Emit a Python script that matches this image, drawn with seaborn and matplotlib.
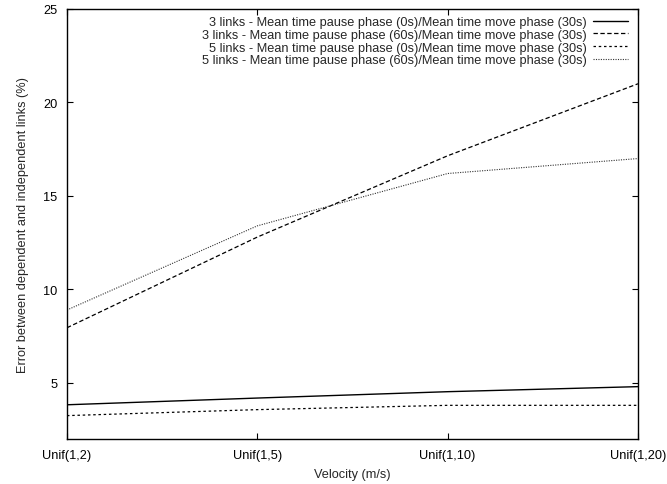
import numpy as np
import pandas as pd
import matplotlib
matplotlib.use("Agg")
import matplotlib.pyplot as plt
import seaborn as sns

# --- Data ---
VELOCITY = ["Unif(1,2)", "Unif(1,5)", "Unif(1,10)", "Unif(1,20)"]

LINKS3_PAUSE0 = [3.83, 4.19, 4.53, 4.80]
LINKS3_PAUSE60 = [7.95, 12.8, 17.15, 21.0]
LINKS5_PAUSE0 = [3.25, 3.57, 3.80, 3.80]
LINKS5_PAUSE60 = [8.9, 13.4, 16.2, 17.0]

LABELS = [
    "3 links - Mean time pause phase (0s)/Mean time move phase (30s)",
    "3 links - Mean time pause phase (60s)/Mean time move phase (30s)",
    "5 links - Mean time pause phase (0s)/Mean time move phase (30s)",
    "5 links - Mean time pause phase (60s)/Mean time move phase (30s)",
]

FS = 9.2

sns.set_style("ticks")
plt.rcParams["font.family"] = ["Liberation Sans", "DejaVu Sans"]
plt.rcParams["font.size"] = FS

series = [LINKS3_PAUSE0, LINKS3_PAUSE60, LINKS5_PAUSE0, LINKS5_PAUSE60]
styles = [
    dict(color="black", linestyle="-", linewidth=1.0),
    dict(color="black", linestyle=(0, (3.5, 2)), linewidth=0.9),
    dict(color="black", linestyle=(0, (2, 2.2)), linewidth=0.9),
    dict(color="#333333", linestyle=(0, (1, 1.2)), linewidth=0.8),
]

fig = plt.figure(figsize=(6.67, 4.85), dpi=100)
ax = fig.add_axes([0.1004, 0.0928, 0.8561, 0.8866])

for vals, lab, st in zip(series, LABELS, styles):
    df = pd.DataFrame({"x": np.arange(len(VELOCITY)), "y": vals})
    sns.lineplot(data=df, x="x", y="y", ax=ax, label=lab, **st)

ax.set_xlim(0, len(VELOCITY) - 1)
ax.set_ylim(2, 25)
ax.set_xticks(np.arange(len(VELOCITY)))
ax.set_xticklabels(VELOCITY)
ax.set_yticks([5, 10, 15, 20, 25])

ax.tick_params(direction="in", length=4, width=0.8, top=True, right=True,
               labelsize=FS, pad=7, colors="black")
for sp in ax.spines.values():
    sp.set_linewidth(1.0)
    sp.set_color("black")

ax.set_xlabel("Velocity (m/s)", fontsize=FS, labelpad=5)
ax.set_ylabel("Error between dependent and independent links (%)", fontsize=FS, labelpad=10)

leg = ax.legend(loc="upper right", frameon=False, markerfirst=False, fontsize=FS,
                handlelength=2.75, labelspacing=0.06, handletextpad=0.45,
                borderaxespad=0.15, bbox_to_anchor=(0.995, 1.0))

fig.savefig("out.png", dpi=100)
